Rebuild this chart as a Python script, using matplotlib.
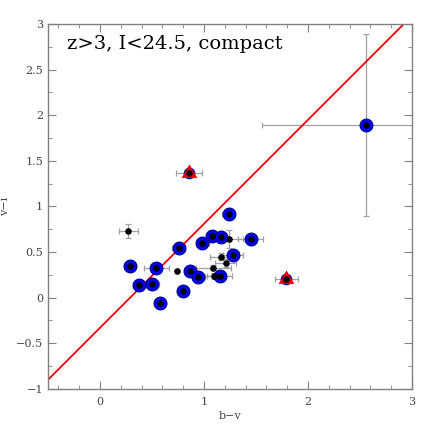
import matplotlib
matplotlib.use("Agg")
import matplotlib.pyplot as plt
from matplotlib.ticker import MultipleLocator, FixedLocator
import numpy as np

plt.rcParams['font.family'] = ['DejaVu Serif', 'Liberation Serif']

# Blue-circled objects
blue_bv = [1.237, 1.077, 1.166, 1.451, 0.985, 0.757, 1.278, 0.288, 0.540, 0.866,
           0.946, 1.150, 0.380, 0.505, 0.800, 0.578, 2.553]
blue_vi = [0.92, 0.68, 0.66, 0.64, 0.60, 0.55, 0.47, 0.35, 0.32, 0.29,
           0.23, 0.24, 0.14, 0.15, 0.07, -0.055, 1.89]
blue_bverr = [0.06, 0.06, 0.06, 0.12, 0.06, 0.06, 0.10, 0.06, 0.12, 0.06,
              0.06, 0.12, 0.06, 0.06, 0.06, 0.06, 1.00]
blue_vierr = [0.04, 0.04, 0.04, 0.04, 0.04, 0.04, 0.04, 0.04, 0.04, 0.04,
              0.04, 0.04, 0.04, 0.04, 0.04, 0.04, 1.00]

# Red-triangle objects
tri_bv = [0.857, 1.790]
tri_vi = [1.37, 0.21]
tri_bverr = [0.125, 0.11]
tri_vierr = [0.05, 0.04]

# Other objects (black dots only)
oth_bv = [0.272, 0.738, 1.237, 1.160, 1.210, 1.090, 1.100]
oth_vi = [0.73, 0.29, 0.64, 0.45, 0.38, 0.33, 0.24]
oth_bverr = [0.09, 0.0, 0.14, 0.10, 0.10, 0.17, 0.10]
oth_vierr = [0.08, 0.0, 0.10, 0.04, 0.04, 0.03, 0.03]

# Reference line
line_slope = 1.14
line_icpt = -0.33

fig = plt.figure(figsize=(4.36, 4.36), dpi=100)
ax = fig.add_axes([0.110, 0.108, 0.835, 0.837])

ecol = '#a0a0a0'
all_bv = blue_bv + tri_bv + oth_bv
all_vi = blue_vi + tri_vi + oth_vi
all_bverr = blue_bverr + tri_bverr + oth_bverr
all_vierr = blue_vierr + tri_vierr + oth_vierr
ax.errorbar(all_bv, all_vi, xerr=all_bverr, yerr=all_vierr, fmt='none',
            ecolor=ecol, elinewidth=0.9, capsize=2, capthick=0.9, zorder=1)

xl = np.array([-0.5, 3.0])
ax.plot(xl, line_slope * xl + line_icpt, color='#ee0000', lw=1.3, zorder=2)

ax.scatter(blue_bv, blue_vi, s=85, c='#0000ff',
           edgecolors='#000080', linewidths=0.8, zorder=3)
ax.scatter(tri_bv, tri_vi, s=60, c='#0000ff',
           edgecolors='#000080', linewidths=0.6, zorder=3)
tri_marker = [(0, 1.15), (-1, -0.58), (1, -0.58), (0, 1.15)]
ax.scatter(tri_bv, tri_vi, s=150, marker=tri_marker, c='#ee0000',
           edgecolors='#dd0000', linewidths=0.4, zorder=6)
ax.scatter(all_bv, all_vi, s=14, c='black', zorder=7)

ax.set_xlim(-0.5, 3.0)
ax.set_ylim(-1.0, 3.0)
ax.xaxis.set_major_locator(FixedLocator([0, 1, 2, 3]))
ax.xaxis.set_minor_locator(MultipleLocator(0.2))
ax.yaxis.set_major_locator(MultipleLocator(0.5))
ax.yaxis.set_minor_locator(MultipleLocator(0.25))

def fmt(v, p):
    s = ('%g' % v)
    return s.replace('-', '\u2212')
ax.xaxis.set_major_formatter(plt.FuncFormatter(fmt))
ax.yaxis.set_major_formatter(plt.FuncFormatter(fmt))

for sp in ax.spines.values():
    sp.set_color('#808080')
    sp.set_linewidth(1.0)
ax.tick_params(which='both', direction='in', top=True, right=True,
               color='#808080', labelcolor='#444444', labelsize=8)
ax.tick_params(which='major', length=6)
ax.tick_params(which='minor', length=3)
ax.tick_params(axis='x', pad=6)

ax.set_xlabel('b\u2212v', fontsize=8, color='#444444', labelpad=3)
ax.set_ylabel('v\u2212i', fontsize=8, color='#444444', labelpad=4)

ax.text(-0.32, 2.73, 'z>3, I<24.5, compact', fontsize=14, color='black')

fig.savefig('out.png', dpi=100)
